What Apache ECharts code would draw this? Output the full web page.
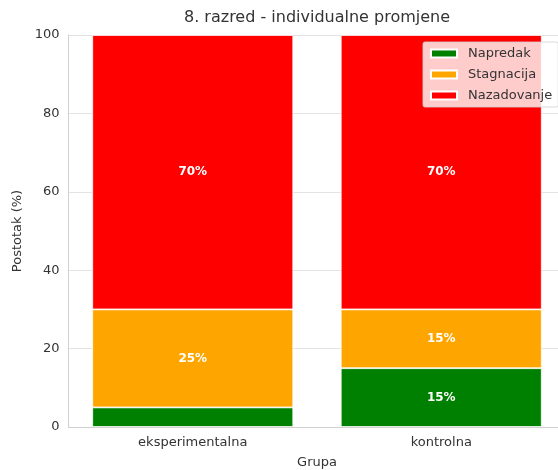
<!DOCTYPE html>
<html>
<head>
<meta charset="utf-8">
<script src="https://cdn.jsdelivr.net/npm/echarts@6/dist/echarts.min.js"></script>
<style>html,body{margin:0;padding:0;background:#fff}#c{width:558px;height:470px}</style>
</head>
<body>
<div id="c"></div>
<script>
const categories = ['eksperimentalna', 'kontrolna'];
const napredak = [5, 15];
const stagnacija = [25, 15];
const nazadovanje = [70, 70];
const seriesNames = ['Napredak', 'Stagnacija', 'Nazadovanje'];
const seriesColors = ['#008000', '#FFA500', '#FF0000'];
const yTicks = [0, 20, 40, 60, 80, 100];
const titleText = '8. razred - individualne promjene';

const FONT = 'DejaVu Sans';
const chart = echarts.init(document.getElementById('c'), null, {renderer: 'canvas'});

const cv = document.createElement('canvas').getContext('2d');
cv.font = '16px "DejaVu Sans"';
const titleW = cv.measureText(titleText).width;

function mkSeries(name, vals, color) {
  return {
    name: name,
    type: 'bar',
    stack: 'total',
    barWidth: 201,
    itemStyle: {color: color, borderColor: '#ffffff', borderWidth: 0.8},
    label: {
      show: true,
      position: 'inside',
      color: '#ffffff',
      fontWeight: 'bold',
      fontSize: 12,
      fontFamily: FONT,
      formatter: p => (p.value > 5 ? p.value + '%' : '')
    },
    emphasis: {disabled: true},
    data: vals
  };
}

chart.setOption({
  animation: false,
  title: {
    text: titleText,
    left: Math.round(317 - titleW / 2), top: 10,
    padding: 0,
    textStyle: {fontFamily: FONT, fontSize: 16, fontWeight: 'normal', color: '#333'}
  },
  legend: {
    data: seriesNames,
    orient: 'vertical',
    left: 423, top: 42,
    padding: [5, 6, 5, 7],
    itemGap: 8,
    itemWidth: 26, itemHeight: 8,
    icon: 'rect',
    backgroundColor: 'rgba(255,255,255,0.8)',
    borderColor: 'rgba(210,210,210,0.8)',
    borderWidth: 1,
    borderRadius: 2,
    textStyle: {fontFamily: FONT, fontSize: 13, color: '#333', padding: [0, 0, 0, 6]}
  },
  grid: {left: 68.5, top: 35, width: 497, height: 392, containLabel: false, outerBoundsMode: 'none'},
  xAxis: {
    type: 'category',
    data: categories,
    name: 'Grupa',
    nameLocation: 'middle',
    nameGap: 29,
    nameTextStyle: {fontFamily: FONT, fontSize: 13, color: '#333'},
    axisLine: {show: true, lineStyle: {color: '#d0d0d0', width: 1}},
    axisTick: {show: false},
    axisLabel: {fontFamily: FONT, fontSize: 13, color: '#333', margin: 9},
    splitLine: {show: false}
  },
  yAxis: {
    type: 'value',
    min: 0, max: 100, interval: 20,
    name: 'Postotak (%)',
    nameLocation: 'middle',
    nameGap: 38,
    nameTextStyle: {fontFamily: FONT, fontSize: 13, color: '#333'},
    axisLine: {show: true, lineStyle: {color: '#d0d0d0', width: 1}},
    axisTick: {show: false},
    axisLabel: {fontFamily: FONT, fontSize: 13, color: '#333', margin: 9,
      formatter: v => (yTicks.indexOf(v) >= 0 ? String(v) : '')},
    splitLine: {show: true, lineStyle: {color: '#e3e3e3', width: 1}}
  },
  series: [
    mkSeries(seriesNames[0], napredak, seriesColors[0]),
    mkSeries(seriesNames[1], stagnacija, seriesColors[1]),
    mkSeries(seriesNames[2], nazadovanje, seriesColors[2])
  ]
});
</script>
</body>
</html>
